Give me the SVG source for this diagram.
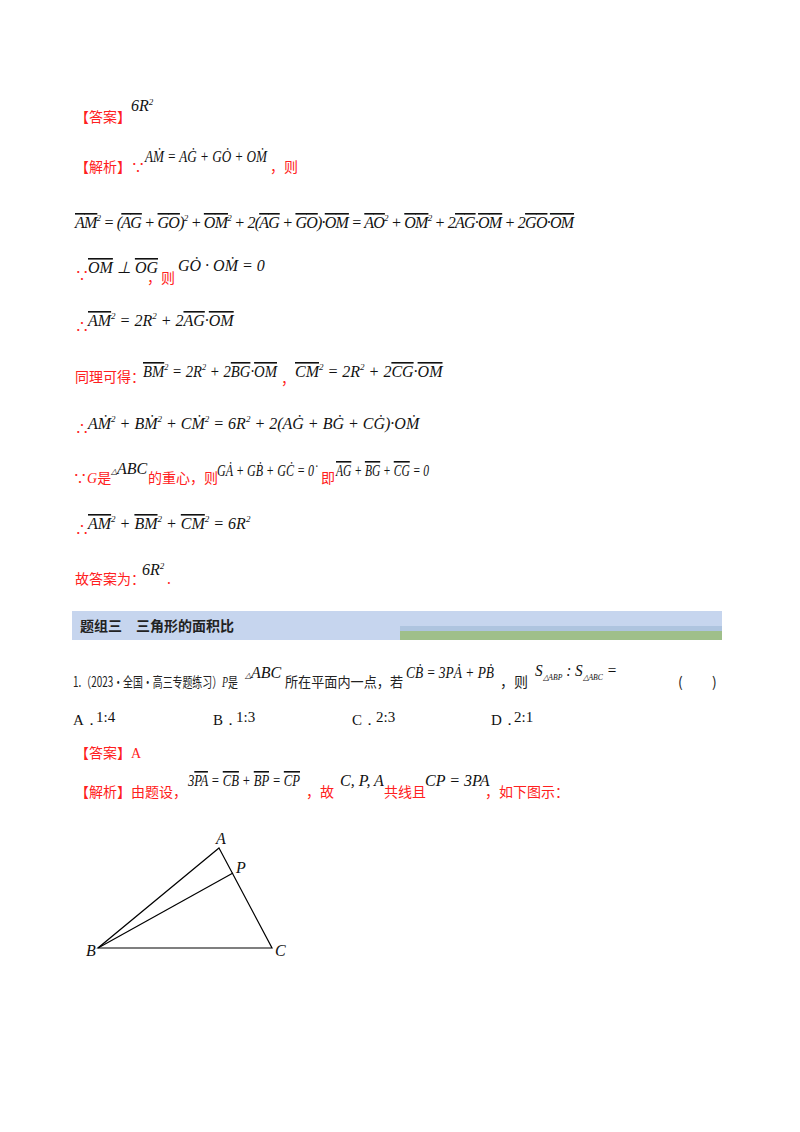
<svg xmlns="http://www.w3.org/2000/svg" width="800" height="1132" viewBox="0 0 800 1132">
<style>
.r{font-family:"Noto Sans CJK SC",sans-serif;font-size:14px;fill:#ff2020}
.k{font-family:"Noto Sans CJK SC",sans-serif;font-size:14px;fill:#222}
.m{font-family:"Liberation Serif",serif;font-size:16px;font-style:italic;fill:#111}
.n{font-family:"Liberation Serif",serif;font-size:15px;fill:#111}
.o{text-decoration:overline}
</style>
<rect width="800" height="1132" fill="#fff"/>
<text class="r" x="75" y="122">【答案】</text><text class="m" x="131" y="111">6R<tspan font-size="9" dy="-6">2</tspan></text>
<text class="r" x="75" y="172">【解析】∵</text><text class="m" x="145" y="162" textLength="122" lengthAdjust="spacingAndGlyphs">AṀ = AĠ + GȮ + OṀ</text><text class="r" x="270" y="172">，则</text>
<text class="m" x="75" y="228" textLength="499" lengthAdjust="spacing"><tspan class="o">AM</tspan><tspan font-size="9" dy="-7">2</tspan><tspan dy="7"> = (</tspan><tspan class="o">AG</tspan> + <tspan class="o">GO</tspan>)<tspan font-size="9" dy="-7">2</tspan><tspan dy="7"> + </tspan><tspan class="o">OM</tspan><tspan font-size="9" dy="-7">2</tspan><tspan dy="7"> + 2(</tspan><tspan class="o">AG</tspan> + <tspan class="o">GO</tspan>)·<tspan class="o">OM</tspan> = <tspan class="o">AO</tspan><tspan font-size="9" dy="-7">2</tspan><tspan dy="7"> + </tspan><tspan class="o">OM</tspan><tspan font-size="9" dy="-7">2</tspan><tspan dy="7"> + 2</tspan><tspan class="o">AG</tspan>·<tspan class="o">OM</tspan> + 2<tspan class="o">GO</tspan>·<tspan class="o">OM</tspan></text>
<text class="r" x="75" y="280">∵</text><text class="m" x="88" y="273"><tspan class="o">OM</tspan> ⊥ <tspan class="o">OG</tspan></text><text class="r" x="147" y="283">，则</text><text class="m" x="178" y="271">GȮ · OṀ = 0</text>
<text class="r" x="75" y="331">∴</text><text class="m" x="88" y="326"><tspan class="o">AM</tspan><tspan font-size="9" dy="-7">2</tspan><tspan dy="7"> = 2R</tspan><tspan font-size="9" dy="-7">2</tspan><tspan dy="7"> + 2</tspan><tspan class="o">AG</tspan>·<tspan class="o">OM</tspan></text>
<text class="r" x="75" y="382">同理可得：</text><text class="m" x="143" y="377" textLength="134" lengthAdjust="spacingAndGlyphs"><tspan class="o">BM</tspan><tspan font-size="9" dy="-7">2</tspan><tspan dy="7"> = 2R</tspan><tspan font-size="9" dy="-7">2</tspan><tspan dy="7"> + 2</tspan><tspan class="o">BG</tspan>·<tspan class="o">OM</tspan></text><text class="r" x="281" y="384">，</text><text class="m" x="295" y="377"><tspan class="o">CM</tspan><tspan font-size="9" dy="-7">2</tspan><tspan dy="7"> = 2R</tspan><tspan font-size="9" dy="-7">2</tspan><tspan dy="7"> + 2</tspan><tspan class="o">CG</tspan>·<tspan class="o">OM</tspan></text>
<text class="r" x="75" y="433">∴</text><text class="m" x="88" y="429">AṀ<tspan font-size="9" dy="-7">2</tspan><tspan dy="7"> + BṀ</tspan><tspan font-size="9" dy="-7">2</tspan><tspan dy="7"> + CṀ</tspan><tspan font-size="9" dy="-7">2</tspan><tspan dy="7"> = 6R</tspan><tspan font-size="9" dy="-7">2</tspan><tspan dy="7"> + 2(AĠ + BĠ + CĠ)·OṀ</tspan></text>
<text class="r" x="73" y="483">∵<tspan font-style="italic" font-family="Liberation Serif">G</tspan>是</text><text class="m" x="111" y="474"><tspan font-size="8">△</tspan>ABC</text><text class="r" x="148" y="483">的重心，则</text><text class="m" x="217" y="476" textLength="97" lengthAdjust="spacingAndGlyphs">GȦ + GḂ + GĊ = 0̇</text><text class="r" x="321" y="483">即</text><text class="m" x="336" y="476" textLength="102" lengthAdjust="spacingAndGlyphs"><tspan class="o">AG</tspan> + <tspan class="o">BG</tspan> + <tspan class="o">CG</tspan> = 0⃗</text>
<text class="r" x="75" y="534">∴</text><text class="m" x="88" y="529"><tspan class="o">AM</tspan><tspan font-size="9" dy="-7">2</tspan><tspan dy="7"> + </tspan><tspan class="o">BM</tspan><tspan font-size="9" dy="-7">2</tspan><tspan dy="7"> + </tspan><tspan class="o">CM</tspan><tspan font-size="9" dy="-7">2</tspan><tspan dy="7"> = 6R</tspan><tspan font-size="9" dy="-7">2</tspan></text>
<text class="r" x="75" y="584">故答案为：</text><text class="m" x="142" y="575">6R<tspan font-size="9" dy="-6">2</tspan></text><text class="r" x="167" y="584">.</text>
<rect x="72" y="611" width="650" height="29" fill="#c6d5ee"/>
<rect x="400" y="626" width="322" height="14" fill="#9fbf8a"/>
<rect x="400" y="626" width="322" height="5" fill="#aec4df"/>
<text class="k" x="80" y="631" font-weight="bold" font-size="14">题组三　三角形的面积比</text>
<text class="k" x="73" y="687" textLength="165" lengthAdjust="spacingAndGlyphs">1.（2023·全国·高三专题练习）<tspan font-family="Liberation Serif" font-style="italic">P</tspan>是</text>
<text class="m" x="245" y="678"><tspan font-size="8">△</tspan>ABC</text>
<text class="k" x="285" y="687" textLength="118" lengthAdjust="spacingAndGlyphs">所在平面内一点，若</text>
<text class="m" x="406" y="678" textLength="88" lengthAdjust="spacingAndGlyphs">CḂ = 3PȦ + PḂ</text>
<text class="k" x="500" y="687">，则</text>
<text class="m" x="535" y="676" textLength="82" lengthAdjust="spacingAndGlyphs">S<tspan font-size="8" dy="4">△ABP</tspan><tspan dy="-4"> : S</tspan><tspan font-size="8" dy="4">△ABC</tspan><tspan dy="-4"> =</tspan></text>
<text class="k" x="678" y="687">(</text><text class="k" x="712" y="687">)</text>
<text class="n" x="73" y="725">A．</text><text class="n" x="96" y="722">1:4</text>
<text class="n" x="213" y="725">B．</text><text class="n" x="236" y="722">1:3</text>
<text class="n" x="352" y="725">C．</text><text class="n" x="376" y="722">2:3</text>
<text class="n" x="491" y="725">D．</text><text class="n" x="514" y="722">2:1</text>
<text class="r" x="75" y="758">【答案】<tspan font-family="Liberation Serif">A</tspan></text>
<text class="r" x="75" y="797">【解析】由题设，</text><text class="m" x="188" y="786" textLength="112" lengthAdjust="spacingAndGlyphs">3<tspan class="o">PA</tspan> = <tspan class="o">CB</tspan> + <tspan class="o">BP</tspan> = <tspan class="o">CP</tspan></text><text class="r" x="306" y="797">，故</text><text class="m" x="340" y="786">C, P, A</text><text class="r" x="384" y="797">共线且</text><text class="m" x="425" y="786">CP = 3PA</text><text class="r" x="485" y="797">，如下图示：</text>
<g id="triangle" stroke="#000" stroke-width="1.2" fill="none">
<polygon points="219,848 272,948 98,948"/>
<line x1="98" y1="948" x2="233" y2="873"/>
</g>
<text class="m" x="216" y="844" font-size="13">A</text>
<text class="m" x="236" y="873" font-size="13">P</text>
<text class="m" x="86" y="956" font-size="13">B</text>
<text class="m" x="275" y="956" font-size="13">C</text>
</svg>
